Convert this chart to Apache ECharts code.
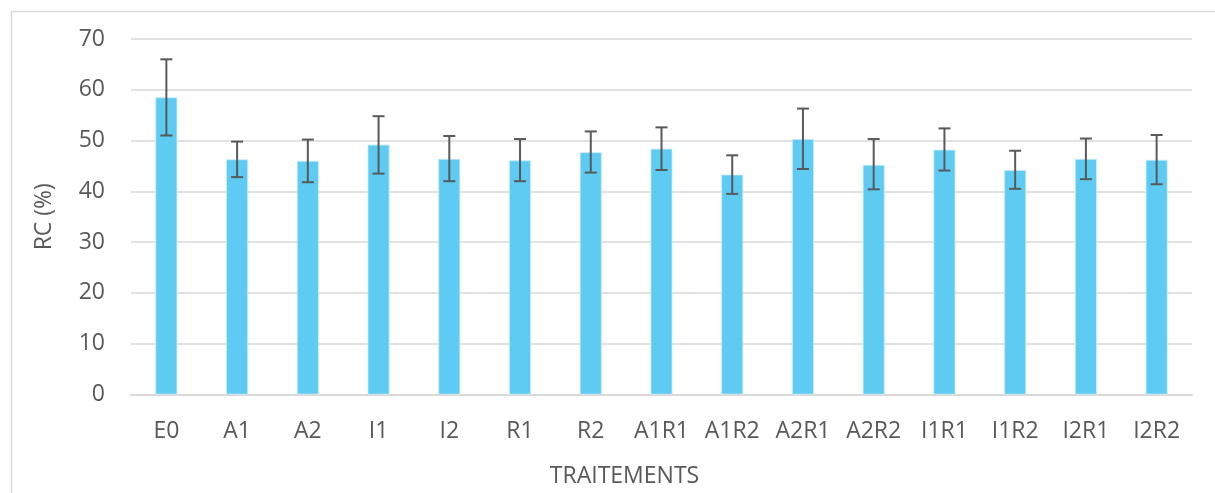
<!DOCTYPE html>
<html>
<head>
<meta charset="utf-8">
<script src="https://cdn.jsdelivr.net/npm/echarts@6/dist/echarts.min.js"></script>
<style>
html,body{margin:0;padding:0;background:#fff;}
#chart{width:1215px;height:493px;}
</style>
</head>
<body>
<div id="chart"></div>
<script>
const categories = ['E0','A1','A2','I1','I2','R1','R2','A1R1','A1R2','A2R1','A2R2','I1R1','I1R2','I2R1','I2R2'];
const rcValues = [58.5,46.3,46.0,49.2,46.4,46.1,47.7,48.4,43.3,50.3,45.2,48.2,44.2,46.4,46.2];
const errLow = [51.0,42.8,41.8,43.5,42.0,42.0,43.7,44.2,39.5,44.4,40.4,44.1,40.5,42.4,41.4];
const errHigh = [66.0,49.8,50.2,54.8,50.9,50.3,51.8,52.6,47.1,56.3,50.3,52.4,48.0,50.4,51.1];
const yTicks = [0,10,20,30,40,50,60,70];

const errData = categories.map((c,i)=>[i, errLow[i], errHigh[i]]);
const font = '"Open Sans", sans-serif';
const textColor = '#595959';

const chart = echarts.init(document.getElementById('chart'), null, {renderer:'canvas'});
chart.setOption({
  animation:false,
  backgroundColor:'#fff',
  graphic:[{
    type:'rect', left:9, top:9, shape:{x:0,y:0,width:1400,height:700},
    style:{fill:'none', stroke:'#d9d9d9', lineWidth:1.5}, silent:true
  }],
  grid:{left:131, right:23, top:39, bottom:97, containLabel:false},
  xAxis:{
    type:'category', data:categories,
    axisLine:{show:true, lineStyle:{color:'#d9d9d9', width:2}},
    axisTick:{show:false},
    axisLabel:{color:textColor, fontFamily:font, fontSize:23, margin:25, interval:0, hideOverlap:false},
    name:'TRAITEMENTS', nameLocation:'middle', nameGap:82,
    nameTextStyle:{color:textColor, fontFamily:font, fontSize:23, verticalAlign:'middle', padding:[0,74,0,0]}
  },
  yAxis:{
    type:'value', min:yTicks[0], max:yTicks[yTicks.length-1], interval:10,
    axisLine:{show:false}, axisTick:{show:false},
    splitLine:{lineStyle:{color:'#d9d9d9', width:1.5}},
    axisLabel:{color:textColor, fontFamily:font, fontSize:23, margin:26},
    name:'RC (%)', nameLocation:'middle', nameGap:87, nameRotate:90,
    nameTextStyle:{color:textColor, fontFamily:font, fontSize:23, verticalAlign:'middle'}
  },
  series:[{
    type:'bar', data:rcValues, barWidth:'31%',
    itemStyle:{color:'#5ecbf2', borderColor:'#c8ecfa', borderWidth:0.8}
  },{
    type:'custom', data:errData, z:10,
    renderItem:function(params, api){
      const x = api.value(0);
      const lo = api.coord([x, api.value(1)]);
      const hi = api.coord([x, api.value(2)]);
      const hw = 6;
      const st = {stroke:'#595959', lineWidth:2};
      return {type:'group', children:[
        {type:'line', shape:{x1:lo[0],y1:lo[1],x2:hi[0],y2:hi[1]}, style:st},
        {type:'line', shape:{x1:lo[0]-hw,y1:lo[1],x2:lo[0]+hw,y2:lo[1]}, style:st},
        {type:'line', shape:{x1:hi[0]-hw,y1:hi[1],x2:hi[0]+hw,y2:hi[1]}, style:st}
      ]};
    }
  }]
});
</script>
</body>
</html>
